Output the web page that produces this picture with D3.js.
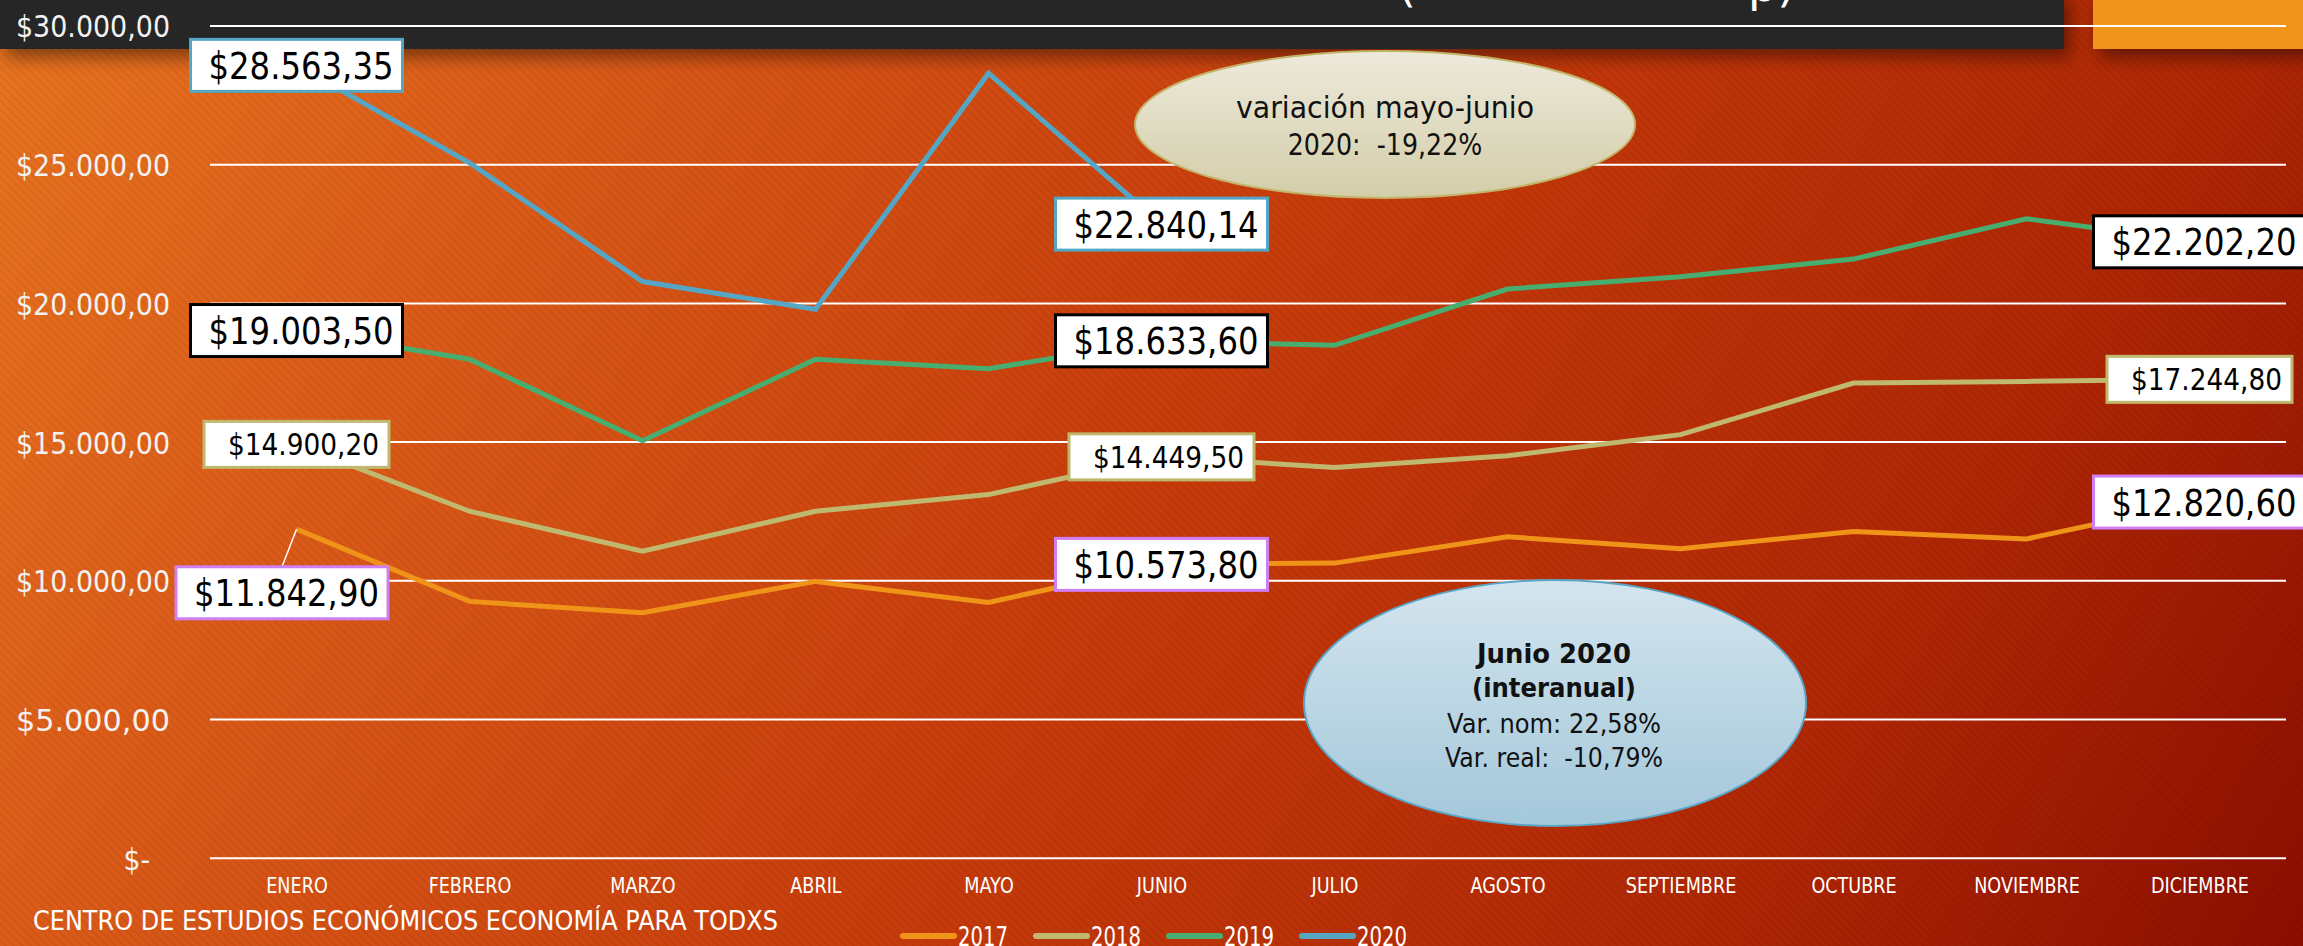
<!DOCTYPE html>
<html><head><meta charset="utf-8">
<script src="https://cdn.jsdelivr.net/npm/d3@7"></script>
<style>
html,body{margin:0;padding:0;background:#C63A0A;overflow:hidden}
svg{display:block}
text{font-family:"DejaVu Sans", Verdana, sans-serif; white-space:pre}
</style></head><body>
<svg id="chart" width="2303" height="946"></svg>
<script>
// ---------- data ----------
const months = ["ENERO","FEBRERO","MARZO","ABRIL","MAYO","JUNIO","JULIO","AGOSTO","SEPTIEMBRE","OCTUBRE","NOVIEMBRE","DICIEMBRE"];
const years = ["2017","2018","2019","2020"];
const values2017 = [11842.90, 9240, 8830, 9960, 9200, 10573.80, 10620, 11570, 11140, 11760, 11490, 12820.60];
const values2018 = [14900.20, 12490, 11050, 12490, 13090, 14449.50, 14070, 14490, 15250, 17110, 17170, 17244.80];
const values2019 = [19003.50, 17970, 15030, 17970, 17630, 18633.60, 18470, 20500, 20940, 21580, 23030, 22202.20];
const values2020 = [28563.35, 25050, 20770, 19770, 28280, 22840.14];
const yTickValues = [0, 5000, 10000, 15000, 20000, 25000, 30000];
const labeledMonths = ["ENERO", "JUNIO", "DICIEMBRE"];
const footerText = "CENTRO DE ESTUDIOS ECONÓMICOS ECONOMÍA PARA TODXS";
const note1Lines = ["variación mayo-junio", "2020:  -19,22%"];
const note2Lines = ["Junio 2020", "(interanual)", "Var. nom: 22,58%", "Var. real:  -10,79%"];

// ---------- styles ----------
const seriesList = [
  {name: years[0], values: values2017, color: "#EF9419", border: "#D07FF2"},
  {name: years[1], values: values2018, color: "#C0B86E", border: "#C0B86E", small: true},
  {name: years[2], values: values2019, color: "#48AE6F", border: "#000000"},
  {name: years[3], values: values2020, color: "#55A6C5", border: "#55A6C5"}
];

const W = 2303, H = 946;
const svg = d3.select("#chart");
const defs = svg.append("defs");

function fitWidth(sel, width){
  sel.attr("textLength", width).attr("lengthAdjust", "spacingAndGlyphs");
}
function squeeze(sel, f){
  sel.each(function(){
    const w = this.getComputedTextLength();
    d3.select(this).attr("textLength", w * f).attr("lengthAdjust", "spacingAndGlyphs");
  });
}

// background gradient
const bg = defs.append("linearGradient").attr("id","bg")
  .attr("gradientUnits","userSpaceOnUse").attr("x1",0).attr("y1",0).attr("x2",2099).attr("y2",1276);
[[0,"#E8741F"],[0.2,"#DB5C19"],[0.5,"#C73C0B"],[0.8,"#AE2604"],[1,"#8C0E00"]]
  .forEach(s => bg.append("stop").attr("offset", s[0]).attr("stop-color", s[1]));
svg.append("rect").attr("width",W).attr("height",H).attr("fill","url(#bg)");

// subtle diagonal stripes
const pat = defs.append("pattern").attr("id","stripes").attr("patternUnits","userSpaceOnUse")
  .attr("width",6).attr("height",6).attr("patternTransform","rotate(-45)");
pat.append("rect").attr("width",2).attr("height",6).attr("fill","#000").attr("opacity",0.05);
svg.append("rect").attr("width",W).attr("height",H).attr("fill","url(#stripes)");

// header bars with shadow
const sh = defs.append("filter").attr("id","shadow").attr("x","-10%").attr("y","-50%").attr("width","130%").attr("height","250%");
sh.append("feDropShadow").attr("dx",6).attr("dy",8).attr("stdDeviation",9).attr("flood-color","#000").attr("flood-opacity",0.45);
svg.append("rect").attr("x",0).attr("y",-10).attr("width",2064).attr("height",59).attr("fill","#262626").attr("filter","url(#shadow)");
svg.append("rect").attr("x",2093).attr("y",-10).attr("width",215).attr("height",59).attr("fill","#F0941A").attr("filter","url(#shadow)");
// cut-off title fragments
svg.append("text").attr("x",1398).attr("y",1).attr("fill","#fff").style("font-size","46px").text("(");
svg.append("text").attr("x",1748).attr("y",1).attr("fill","#fff").style("font-size","46px").text("p)");

// ---------- scales ----------
const plotL = 210, plotR = 2286;
const x = d3.scalePoint().domain(months).range([plotL, plotR]).padding(0.5);
const y = d3.scaleLinear().domain([0, 30000]).range([857.7, 25.5]);

const loc = d3.formatLocale({decimal: ",", thousands: ".", grouping: [3], currency: ["$", ""]});
const money = loc.format("$,.2f");
const tickFmt = v => v === 0 ? "$-" : money(v);

// y axis + gridlines
const gy = svg.append("g").attr("transform", `translate(${plotL},0)`)
  .call(d3.axisLeft(y).tickValues(yTickValues).tickFormat(tickFmt).tickSize(-(plotR - plotL)).tickPadding(40));
gy.select(".domain").remove();
gy.selectAll(".tick line").attr("stroke","#fff").attr("stroke-width",2);
gy.selectAll(".tick text").attr("fill","#F2F2F2").style("font-size","31px").style("font-family","DejaVu Sans")
  .attr("dy","0.37em")
  .each(function(d){
    const t = d3.select(this);
    if (d === 0) { t.attr("x", -60); squeeze(t, 0.86); }
    else fitWidth(t, 154);
  });

// x axis
const gx = svg.append("g").attr("transform", `translate(0,${y(0)})`)
  .call(d3.axisBottom(x).tickSize(0));
gx.select(".domain").remove();
gx.selectAll(".tick text").attr("fill","#fff").style("font-size","22px").style("font-family","DejaVu Sans")
  .attr("y", 35.3).attr("dy", 0);
squeeze(gx.selectAll(".tick text"), 0.8);

// ---------- lines ----------
const line = d3.line().x((d,i) => x(months[i])).y(d => y(d));
svg.append("g").selectAll("path").data(seriesList).join("path")
  .attr("d", s => line(s.values))
  .attr("fill","none").attr("stroke", s => s.color).attr("stroke-width",5).attr("stroke-linejoin","miter");

// ---------- callout ellipses ----------
function ellGrad(id, top, bottom){
  const g = defs.append("linearGradient").attr("id", id).attr("x1",0).attr("y1",0).attr("x2",0).attr("y2",1);
  g.append("stop").attr("offset",0).attr("stop-color",top);
  g.append("stop").attr("offset",1).attr("stop-color",bottom);
}
ellGrad("e1","#EDEADC","#D3CDA8");
ellGrad("e2","#D4E5EE","#A3C7DA");

svg.append("ellipse").attr("cx",1385).attr("cy",124.5).attr("rx",250).attr("ry",73.5)
  .attr("fill","url(#e1)").attr("stroke","#C4B46A").attr("stroke-width",2);
const n1 = svg.append("g");
const n1w = [298, 194.5], n1y = [118, 155];
note1Lines.forEach((t,i) => {
  n1.append("text").attr("x",1385).attr("y",n1y[i]).attr("text-anchor","middle")
    .attr("fill","#111").style("font-size","31px").text(t).call(fitWidth, n1w[i]);
});

svg.append("ellipse").attr("cx",1555).attr("cy",703).attr("rx",251).attr("ry",123)
  .attr("fill","url(#e2)").attr("stroke","#5AA5C5").attr("stroke-width",2);
const n2w = [154, 164, 214, 218], n2y = [663, 697, 733, 767];
note2Lines.forEach((t,i) => {
  svg.append("text").attr("x",1554).attr("y",n2y[i]).attr("text-anchor","middle")
    .attr("fill","#111").style("font-size", i < 2 ? "26px" : "27px").style("font-weight", i < 2 ? "bold" : "normal")
    .text(t).call(fitWidth, n2w[i]);
});

// ---------- data labels ----------
const labels = svg.append("g");
seriesList.forEach(s => {
  labeledMonths.forEach(m => {
    const i = months.indexOf(m);
    if (i >= s.values.length) return;
    const v = s.values[i];
    const px = x(m), py = y(v);
    const bw = s.small ? 185 : 212, bh = s.small ? 46 : 52;
    let cx = px, cy = py;
    if (s.name === "2017" && i === 0) {
      cx = px - 14.5; cy = py + 63.6;
      labels.append("line").attr("x1",px).attr("y1",py).attr("x2",cx).attr("y2",cy - bh/2)
        .attr("stroke","#fff").attr("stroke-width",1.5);
    }
    const g = labels.append("g");
    g.append("rect").attr("x", cx - bw/2).attr("y", cy - bh/2).attr("width", bw).attr("height", bh)
      .attr("fill","#fff").attr("stroke", s.border).attr("stroke-width",3);
    g.append("text").attr("x", cx + bw/2 - (s.small ? 10 : 9)).attr("y", cy + (s.small ? 11 : 13.5))
      .attr("text-anchor","end").attr("fill","#000").style("font-size", s.small ? "30px" : "37px")
      .text(money(v)).call(fitWidth, s.small ? 151 : 185);
  });
});

// ---------- legend ----------
const lg = svg.append("g");
seriesList.forEach((s, k) => {
  const lx = 900 + k * 133;
  lg.append("line").attr("x1", lx + 3).attr("x2", lx + 54).attr("y1", 936).attr("y2", 936)
    .attr("stroke", s.color).attr("stroke-width", 6).attr("stroke-linecap","round");
  lg.append("text").attr("x", lx + 58).attr("y", 946).attr("fill","#fff").style("font-size","26px")
    .text(s.name).call(fitWidth, 50);
});

// ---------- footer ----------
svg.append("text").attr("x",33).attr("y",930).attr("fill","#fff").style("font-size","26px")
  .text(footerText).call(fitWidth, 745);
</script>
</body></html>
